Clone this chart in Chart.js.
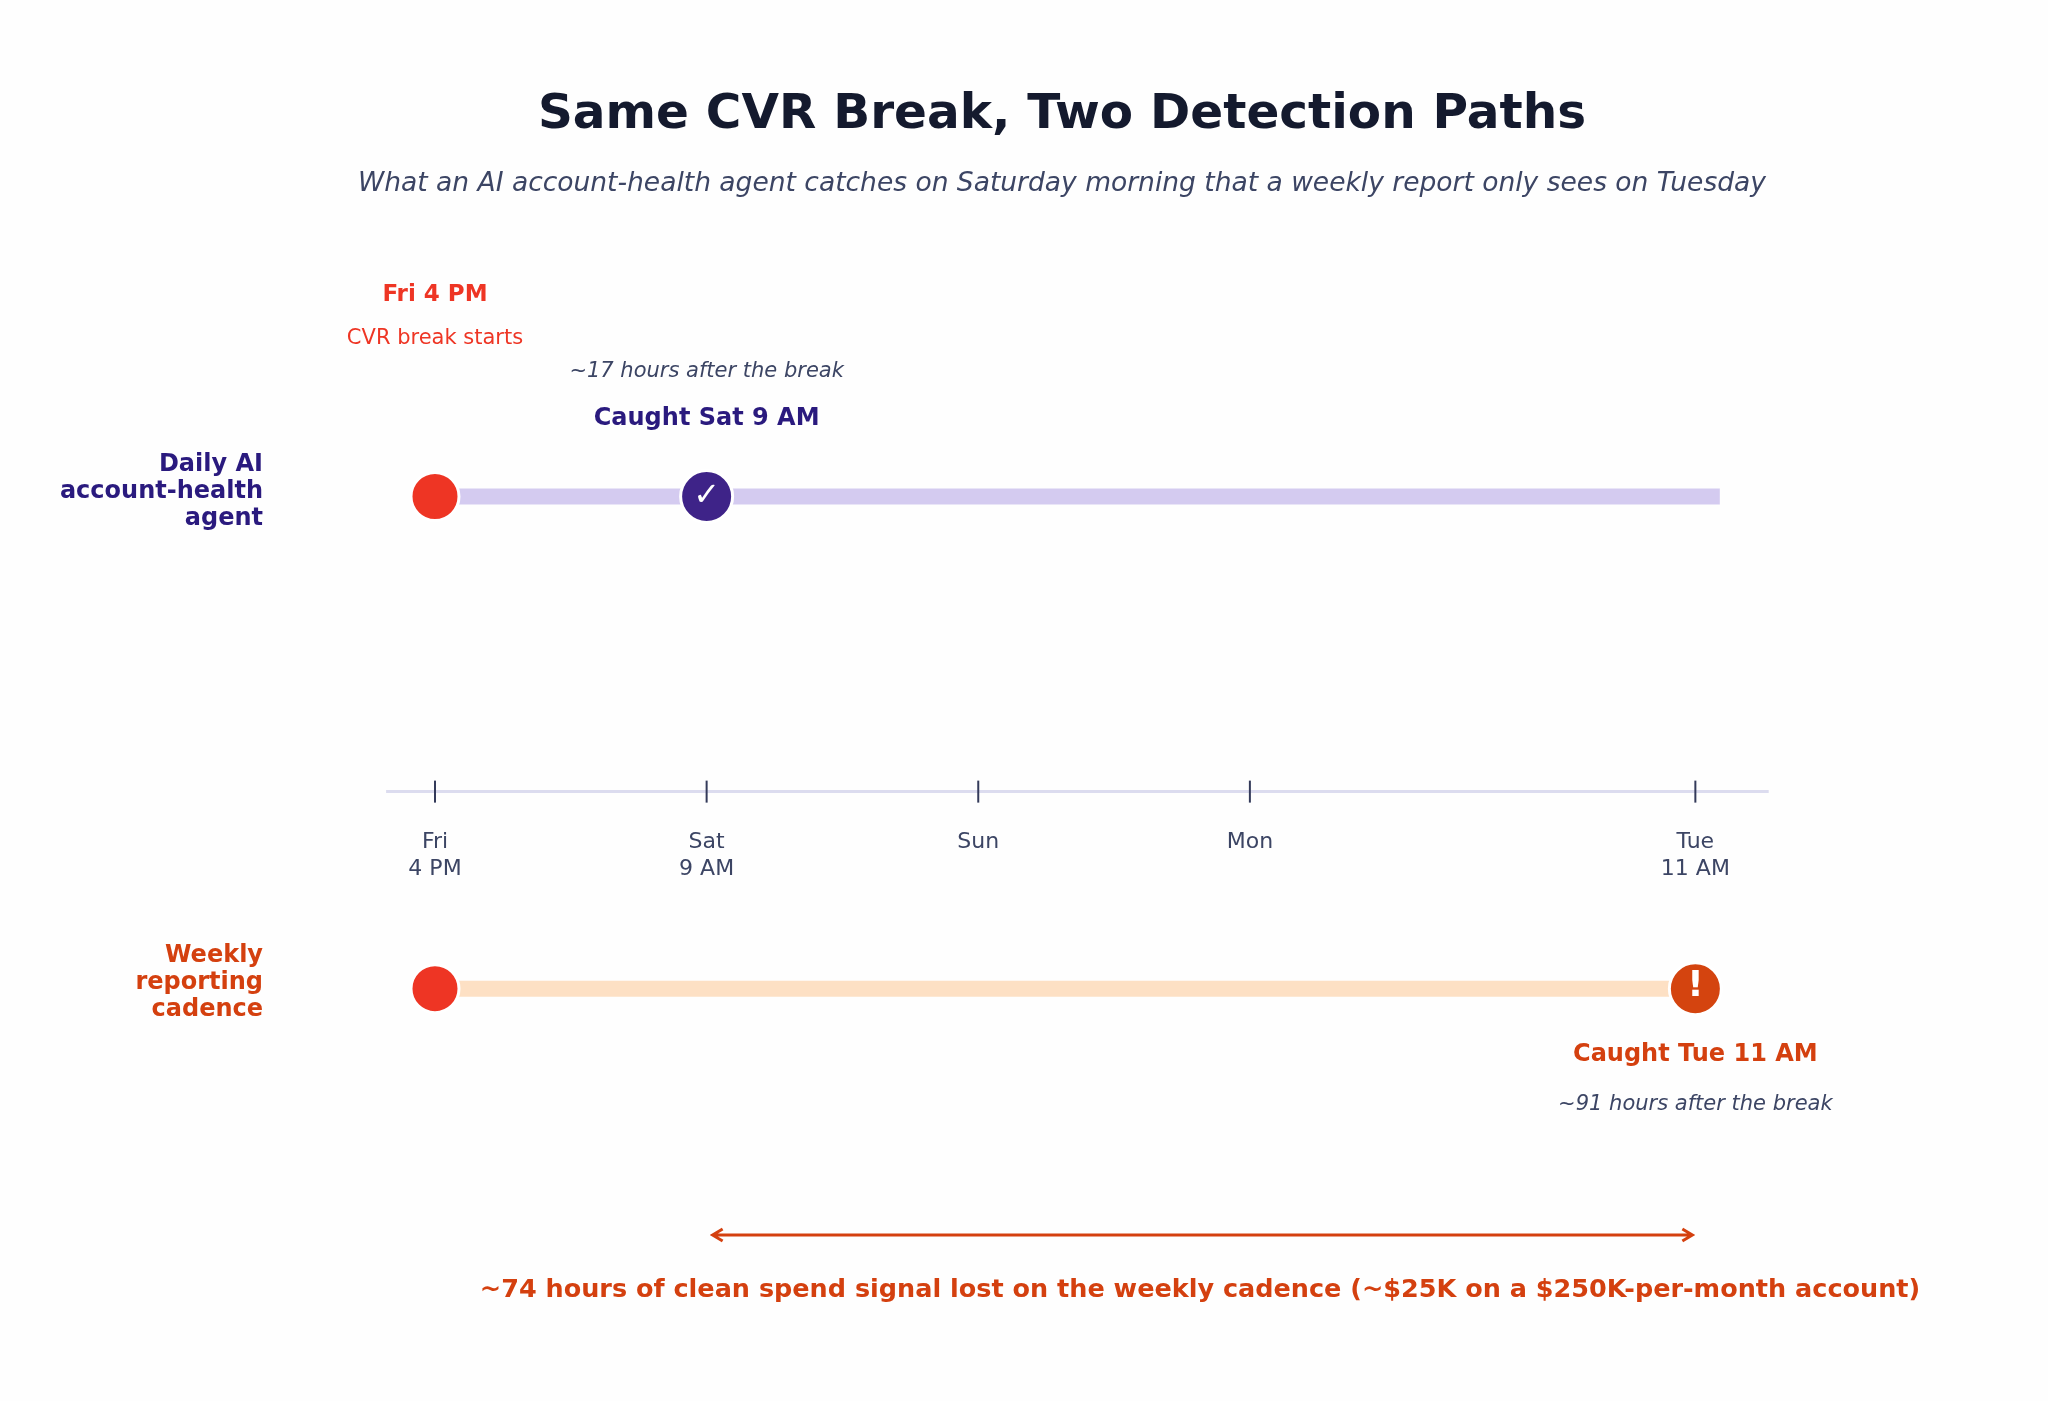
<!DOCTYPE html>
<html>
<head>
<meta charset="utf-8">
<script src="https://cdn.jsdelivr.net/npm/chart.js@4.4.0/dist/chart.umd.min.js"></script>
<style>
  html, body { margin: 0; padding: 0; background: #fefefe; }
  #wrap { width: 2048px; height: 1401px; position: relative; }
</style>
</head>
<body>
<div id="wrap"><canvas id="timeline"></canvas></div>
<script>
// timeline ticks (axis position units; the last gap is stretched like the original)
const tickLabels = [['Fri', '4 PM'], ['Sat', '9 AM'], ['Sun'], ['Mon'], ['Tue', '11 AM']];
const tickPos = [0, 1, 2, 3, 4.64];
const rowY = [500, 997];
const breakPos = 0;
const dailyCatchPos = 1;
const weeklyCatchPos = 4.64;
const dailyTrackEnd = 4.73;
const hoursAfter = [17, 91];

const FONT = '"DejaVu Sans", sans-serif';

const overlay = {
    id: 'overlay',
    beforeDatasetsDraw(chart) {
        const { ctx, scales: { x, y } } = chart;
        ctx.save();
        // axis line + ticks
        const ay = y.getPixelForValue(798);
        ctx.strokeStyle = '#dcdcef';
        ctx.lineWidth = 3;
        ctx.beginPath();
        ctx.moveTo(x.getPixelForValue(-0.18), ay);
        ctx.lineTo(x.getPixelForValue(4.91), ay);
        ctx.stroke();
        ctx.strokeStyle = '#333a5a';
        ctx.lineWidth = 2;
        ctx.fillStyle = '#3c4564';
        ctx.font = '22px ' + FONT;
        ctx.textAlign = 'center';
        ctx.textBaseline = 'middle';
        tickPos.forEach((p, i) => {
            const px = x.getPixelForValue(p);
            ctx.beginPath();
            ctx.moveTo(px, ay - 11);
            ctx.lineTo(px, ay + 11);
            ctx.stroke();
            tickLabels[i].forEach((t, j) => ctx.fillText(t, px, 842 + j * 27));
        });
        ctx.restore();
    },
    afterDatasetsDraw(chart) {
        const { ctx, scales: { x, y } } = chart;
        ctx.save();
        ctx.textAlign = 'center';
        ctx.textBaseline = 'middle';
        // marker glyphs
        ctx.fillStyle = '#ffffff';
        ctx.font = 'bold 32px ' + FONT;
        ctx.fillText('✓', x.getPixelForValue(dailyCatchPos), y.getPixelForValue(rowY[0]));
        ctx.font = 'bold 36px ' + FONT;
        ctx.fillText('!', x.getPixelForValue(weeklyCatchPos), y.getPixelForValue(rowY[1]) - 2);

        // title
        ctx.fillStyle = '#141a2e';
        ctx.font = 'bold 48.5px ' + FONT;
        ctx.fillText('Same CVR Break, Two Detection Paths', 1062, 115);
        ctx.fillStyle = '#3c4564';
        ctx.font = 'italic 26.5px ' + FONT;
        ctx.fillText('What an AI account-health agent catches on Saturday morning that a weekly report only sees on Tuesday', 1062, 184);

        // break annotation
        const bx = x.getPixelForValue(breakPos);
        ctx.fillStyle = '#ee3524';
        ctx.font = 'bold 23px ' + FONT;
        ctx.fillText('Fri 4 PM', bx, 295);
        ctx.font = '21px ' + FONT;
        ctx.fillText('CVR break starts', bx, 339);

        // daily catch
        const dx = x.getPixelForValue(dailyCatchPos);
        ctx.fillStyle = '#3c4564';
        ctx.font = 'italic 21px ' + FONT;
        ctx.fillText('~' + hoursAfter[0] + ' hours after the break', dx, 372);
        ctx.fillStyle = '#2a1a7e';
        ctx.font = 'bold 24px ' + FONT;
        ctx.fillText('Caught Sat 9 AM', dx, 419);

        // weekly catch
        const wx = x.getPixelForValue(weeklyCatchPos);
        ctx.fillStyle = '#d4400f';
        ctx.font = 'bold 24px ' + FONT;
        ctx.fillText('Caught Tue 11 AM', wx, 1055);
        ctx.fillStyle = '#3c4564';
        ctx.font = 'italic 21px ' + FONT;
        ctx.fillText('~' + hoursAfter[1] + ' hours after the break', wx, 1105);

        // row names
        ctx.textAlign = 'right';
        ctx.font = 'bold 24px ' + FONT;
        ctx.fillStyle = '#2a1a7e';
        ['Daily AI', 'account-health', 'agent'].forEach((t, i) => ctx.fillText(t, 263, 465 + i * 27));
        ctx.fillStyle = '#d4400f';
        ['Weekly', 'reporting', 'cadence'].forEach((t, i) => ctx.fillText(t, 263, 956 + i * 27));

        // gap arrow
        const ay = 1235;
        const a0 = x.getPixelForValue(dailyCatchPos) + 6, a1 = x.getPixelForValue(weeklyCatchPos) - 3;
        ctx.strokeStyle = '#d4400f';
        ctx.lineWidth = 3;
        ctx.beginPath();
        ctx.moveTo(a0, ay); ctx.lineTo(a1, ay);
        ctx.moveTo(a0 + 10, ay - 6); ctx.lineTo(a0, ay); ctx.lineTo(a0 + 10, ay + 6);
        ctx.moveTo(a1 - 10, ay - 6); ctx.lineTo(a1, ay); ctx.lineTo(a1 - 10, ay + 6);
        ctx.stroke();
        ctx.textAlign = 'center';
        ctx.fillStyle = '#d4400f';
        ctx.font = 'bold 25.5px ' + FONT;
        ctx.fillText('~' + (hoursAfter[1] - hoursAfter[0]) + ' hours of clean spend signal lost on the weekly cadence (~$25K on a $250K-per-month account)', 1200, 1290);
        ctx.restore();
    }
};

new Chart(document.getElementById('timeline'), {
    type: 'scatter',
    data: {
        datasets: [
            {
                type: 'line',
                data: [{ x: breakPos, y: rowY[0] }, { x: dailyTrackEnd, y: rowY[0] }],
                borderColor: '#d4cbf0',
                borderWidth: 16,
                pointRadius: 0,
                order: 3
            },
            {
                type: 'line',
                data: [{ x: breakPos, y: rowY[1] }, { x: weeklyCatchPos, y: rowY[1] }],
                borderColor: '#fde0c4',
                borderWidth: 16,
                pointRadius: 0,
                order: 3
            },
            {
                data: [{ x: breakPos, y: rowY[0] }, { x: breakPos, y: rowY[1] }],
                backgroundColor: '#ee3524',
                borderColor: '#ffffff',
                borderWidth: 3,
                pointRadius: 24,
                order: 1
            },
            {
                data: [{ x: dailyCatchPos, y: rowY[0] }],
                backgroundColor: '#3e2388',
                borderColor: '#ffffff',
                borderWidth: 3,
                pointRadius: 26,
                order: 1
            },
            {
                data: [{ x: weeklyCatchPos, y: rowY[1] }],
                backgroundColor: '#d4440f',
                borderColor: '#ffffff',
                borderWidth: 3,
                pointRadius: 26,
                order: 1
            }
        ]
    },
    options: {
        responsive: true,
        maintainAspectRatio: false,
        animation: false,
        layout: { padding: { left: 388, right: 263, top: 0, bottom: 0 } },
        plugins: { legend: { display: false }, tooltip: { enabled: false } },
        scales: {
            x: { type: 'linear', min: -0.173, max: 4.97, display: false },
            y: { type: 'linear', min: 28, max: 1384, reverse: true, display: false }
        }
    },
    plugins: [overlay]
});
</script>
</body>
</html>
